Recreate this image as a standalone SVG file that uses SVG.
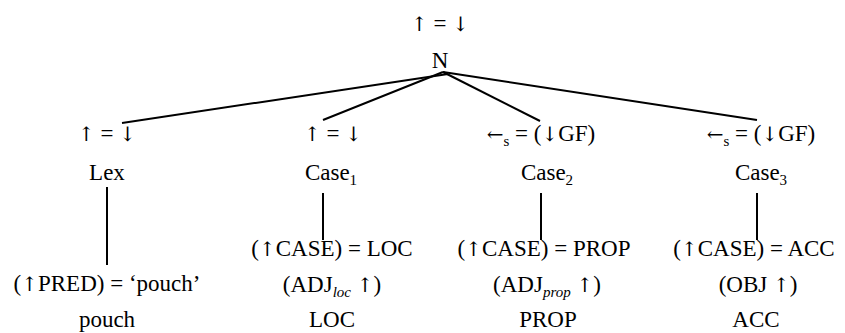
<svg xmlns="http://www.w3.org/2000/svg" width="845" height="333" viewBox="0 0 845 333">
<style>
text{font-family:"Liberation Serif","Times New Roman",serif;font-size:23px;fill:#000;text-anchor:middle}
.sub{font-size:15px}
.it{font-style:italic}
.ar{font-family:"DejaVu Serif","DejaVu Sans",serif;font-size:20px}
.ln{stroke:#000;stroke-width:2;fill:none}
</style>
<rect width="845" height="333" fill="#fff"/>
<g id="connectors">
<line class="ln" x1="448" y1="74" x2="122" y2="123"/>
<line class="ln" x1="443" y1="72" x2="323" y2="120"/>
<line class="ln" x1="443" y1="72" x2="540" y2="121"/>
<line class="ln" x1="443" y1="72" x2="757" y2="120"/>
<line class="ln" x1="107" y1="187" x2="107" y2="265"/>
<line class="ln" x1="323" y1="193" x2="323" y2="240"/>
<line class="ln" x1="541" y1="193" x2="541" y2="240"/>
<line class="ln" x1="757" y1="193" x2="757" y2="240"/>
</g>
<g id="root">
<text x="440" y="31"><tspan class="ar">↑</tspan> = <tspan class="ar">↓</tspan></text>
<text x="440" y="68">N</text>
</g>
<g id="lex">
<text x="107" y="141"><tspan class="ar">↑</tspan> = <tspan class="ar">↓</tspan></text>
<text x="107" y="180">Lex</text>
<text x="107" y="291">(<tspan class="ar">↑</tspan>PRED) = ‘pouch’</text>
<text x="107" y="327">pouch</text>
</g>
<g id="case1">
<text x="333" y="141"><tspan class="ar">↑</tspan> = <tspan class="ar">↓</tspan></text>
<text x="331" y="180">Case<tspan class="sub" dy="5">1</tspan></text>
<text x="332" y="256">(<tspan class="ar">↑</tspan>CASE) = LOC</text>
<text x="332" y="292">(ADJ<tspan class="sub it" dy="5">loc</tspan><tspan dy="-5"> </tspan><tspan class="ar">↑</tspan>)</text>
<text x="332" y="327">LOC</text>
</g>
<g id="case2">
<text x="541" y="141"><tspan class="ar">←</tspan><tspan class="sub" dy="5">s</tspan><tspan dy="-5"> = (</tspan><tspan class="ar">↓</tspan>GF)</text>
<text x="547" y="180">Case<tspan class="sub" dy="5">2</tspan></text>
<text x="544" y="256">(<tspan class="ar">↑</tspan>CASE) = PROP</text>
<text x="547" y="292">(ADJ<tspan class="sub it" dy="5">prop</tspan><tspan dy="-5"> </tspan><tspan class="ar">↑</tspan>)</text>
<text x="548" y="327">PROP</text>
</g>
<g id="case3">
<text x="761" y="141"><tspan class="ar">←</tspan><tspan class="sub" dy="5">s</tspan><tspan dy="-5"> = (</tspan><tspan class="ar">↓</tspan>GF)</text>
<text x="761" y="180">Case<tspan class="sub" dy="5">3</tspan></text>
<text x="754" y="256">(<tspan class="ar">↑</tspan>CASE) = ACC</text>
<text x="758" y="292">(OBJ <tspan class="ar">↑</tspan>)</text>
<text x="756" y="327">ACC</text>
</g>
</svg>
